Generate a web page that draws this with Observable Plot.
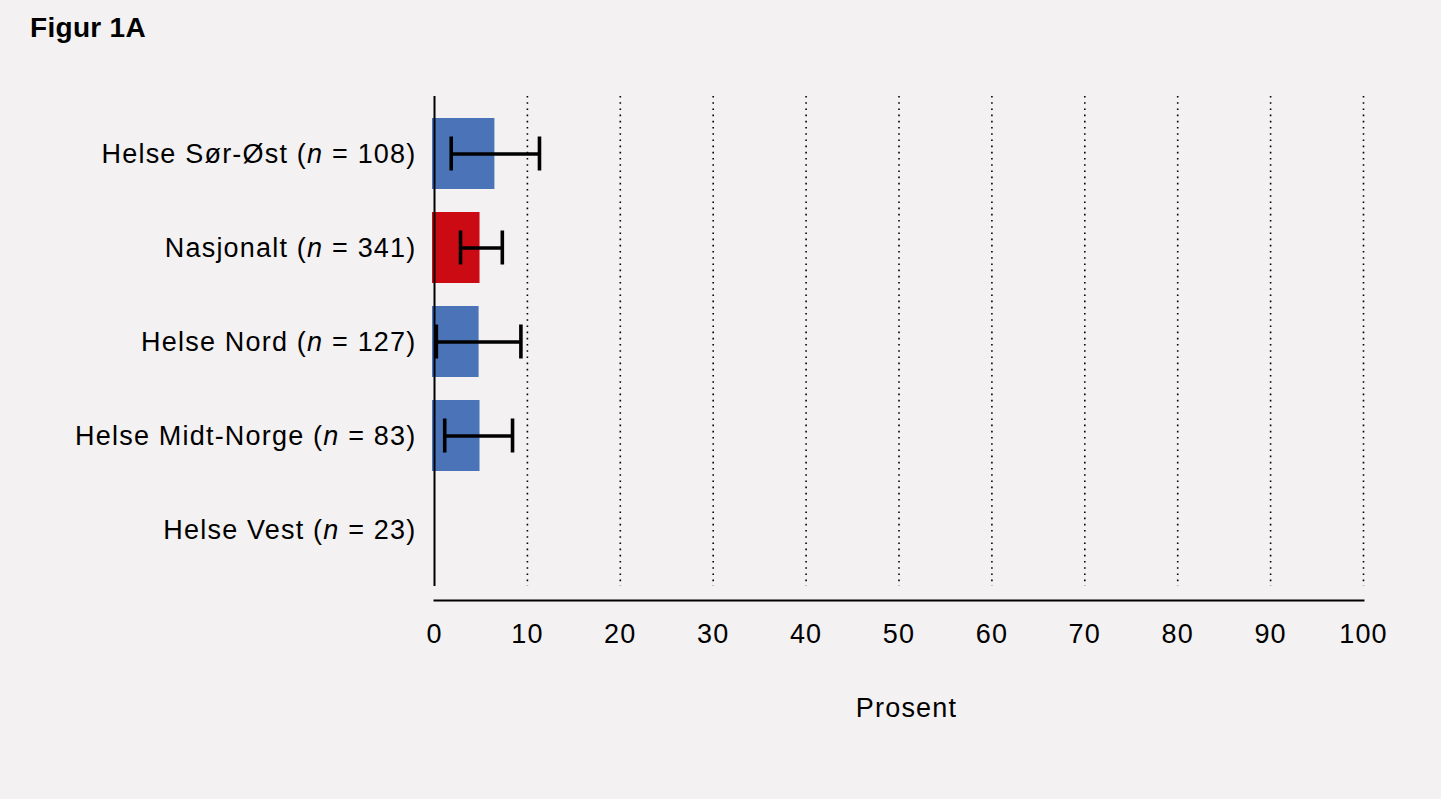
<!DOCTYPE html>
<html>
<head>
<meta charset="utf-8">
<script src="https://cdn.jsdelivr.net/npm/d3@7"></script>
<script src="https://cdn.jsdelivr.net/npm/@observablehq/plot@0.6"></script>
<style>
  html, body { margin: 0; padding: 0; background: #f3f1f2; }
  body { width: 1441px; height: 799px; position: relative; overflow: hidden; font-family: "Liberation Sans", Arial, sans-serif; }
  #title { position: absolute; left: 30px; top: 12px; font-size: 28px; font-weight: bold; color: #000; letter-spacing: 0.3px; font-family: "Liberation Sans", Arial, sans-serif; }
  #chart { position: absolute; left: 0; top: 0; }
  #chart svg text { letter-spacing: 1.2px; }
</style>
</head>
<body>
<div id="title">Figur 1A</div>
<div id="chart"></div>
<script>
const regions = ["Helse Sør-Øst", "Nasjonalt", "Helse Nord", "Helse Midt-Norge", "Helse Vest"];
const counts = [108, 341, 127, 83, 23];
const values = [6.5, 4.9, 4.8, 4.9, 0];
const lower = [1.8, 2.8, 0.2, 1.1, null];
const upper = [11.3, 7.3, 9.3, 8.4, null];
const kinds = ["region", "national", "region", "region", "region"];
const xTicks = [0, 10, 20, 30, 40, 50, 60, 70, 80, 90, 100];
const xLabel = "Prosent";

const data = regions.map((r, i) => ({region: r, n: counts[i], value: values[i], lo: lower[i], hi: upper[i], kind: kinds[i]}));
const barData = data.filter(d => d.value > 0);
const errData = data.filter(d => d.lo != null);

const fontSize = 27;

const plot = Plot.plot({
  width: 1441,
  height: 799,
  marginLeft: 434,
  marginRight: 78,
  marginTop: 96,
  marginBottom: 199,
  style: {background: "transparent", fontFamily: "'Liberation Sans', Arial, sans-serif", fontSize: fontSize + "px", color: "#000"},
  x: {domain: [0, 100], ticks: xTicks, label: null},
  y: {domain: regions, range: [96, 586], paddingInner: 0.25, paddingOuter: 0.22, label: null},
  color: {domain: ["region", "national"], range: ["#4a73b8", "#cc0a14"]},
  marks: [
    Plot.ruleX(xTicks.filter(t => t > 0), {stroke: "#000", strokeWidth: 1.6, strokeDasharray: "1.6,4.6", insetBottom: 14}),
    Plot.barX(barData, {y: "region", x1: 0, x2: "value", fill: "kind", insetLeft: -2}),
    Plot.ruleY(errData, {y: "region", x1: "lo", x2: "hi", stroke: "#000", strokeWidth: 3.6}),
    Plot.tickX(errData, {y: "region", x: "lo", stroke: "#000", strokeWidth: 3.6, insetTop: 18.5, insetBottom: 18.5}),
    Plot.tickX(errData, {y: "region", x: "hi", stroke: "#000", strokeWidth: 3.6, insetTop: 18.5, insetBottom: 18.5}),
    Plot.ruleX([0], {stroke: "#000", strokeWidth: 2, insetBottom: 14}),
    Plot.frame({anchor: "bottom", stroke: "#000", strokeWidth: 2}),
    Plot.axisX({ticks: xTicks, tickSize: 0, tickPadding: 23, fontSize: fontSize, label: null}),
    Plot.axisY({tickSize: 0, tickPadding: 18, fontSize: fontSize, label: null,
      tickFormat: r => `${r} (n = ${counts[regions.indexOf(r)]})`}),
    Plot.text([xLabel], {frameAnchor: "bottom", dx: 7.5, dy: 116, fontSize: fontSize, fill: "#000"})
  ]
});

document.getElementById("chart").appendChild(plot);

// Italicise the "n" in the y-axis tick labels
d3.select(plot).selectAll("[aria-label='y-axis tick label'] text").each(function() {
  const t = d3.select(this);
  const s = t.text();
  const m = s.match(/^(.*\()n( = .*)$/);
  if (!m) return;
  t.text(null);
  t.append("tspan").text(m[1]);
  t.append("tspan").attr("font-style", "italic").text("n");
  t.append("tspan").text(m[2]);
});
</script>
</body>
</html>
